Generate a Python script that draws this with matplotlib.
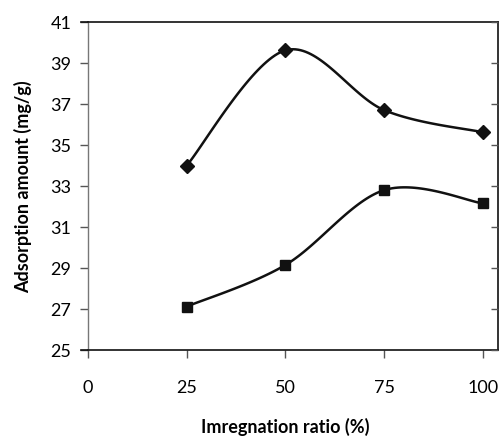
import numpy as np
import matplotlib
matplotlib.use("Agg")
import matplotlib.pyplot as plt

# ---- data ----
ratio = [25, 50, 75, 100]
series_diamond = [34.0, 39.62, 36.7, 35.62]
series_square = [27.12, 29.15, 32.8, 32.15]
xticks = [0, 25, 50, 75, 100]
yticks = [25, 27, 29, 31, 33, 35, 37, 39, 41]
xlabel = "Imregnation ratio (%)"
ylabel = "Adsorption amount (mg/g)"

plt.rcParams['font.family'] = ['Lato', 'DejaVu Sans']

fig = plt.figure(figsize=(4.99, 4.39), dpi=100)
ax = fig.add_axes([88/499, 1-351/439, 410/499, 328/439])
ax.set_xlim(0, 103.8)
ax.set_ylim(25, 41)


def smooth(ax, xs, ys, n=40):
    pts = ax.transData.transform(np.column_stack([xs, ys]))
    P = np.vstack([pts[0], pts, pts[-1]])
    out = []
    for i in range(1, len(P) - 2):
        p0, p1, p2, p3 = P[i-1], P[i], P[i+1], P[i+2]
        b0 = p1
        b1 = p1 + (p2 - p0) / 6
        b2 = p2 - (p3 - p1) / 6
        b3 = p2
        t = np.linspace(0, 1, n)[:, None]
        seg = ((1-t)**3)*b0 + 3*((1-t)**2)*t*b1 + 3*(1-t)*t**2*b2 + t**3*b3
        out.append(seg)
    curve = np.vstack(out)
    return ax.transData.inverted().transform(curve)

for ys, mk, ms in [(series_diamond, 'D', 7), (series_square, 's', 7.5)]:
    c = smooth(ax, ratio, ys)
    ax.plot(c[:, 0], c[:, 1], color='#111111', lw=1.8, zorder=2)
    ax.plot(ratio, ys, linestyle='none', marker=mk, ms=ms, color='#111111', zorder=3)

ax.set_xticks(xticks)
ax.set_yticks(yticks)
ax.tick_params(axis='both', labelsize=13, length=6, width=1, color='#555555')
ax.tick_params(axis='x', pad=15)
ax.tick_params(axis='y', pad=6)

for s in ['top', 'right', 'bottom']:
    ax.spines[s].set_color('#111111')
    ax.spines[s].set_linewidth(1.2)
ax.spines['left'].set_color('#777777')
ax.spines['left'].set_linewidth(1.0)

# right side inward ticks
ax2 = ax.twinx()
ax2.set_ylim(25, 41)
ax2.set_yticks(yticks)
ax2.tick_params(axis='y', direction='in', length=5, width=1, color='#555555', labelright=False)
for s in ax2.spines.values():
    s.set_visible(False)

# extend top/bottom lines to the left over the tick
ax.plot([-7/3.95, 0], [41, 41], color='#111111', lw=1.2, clip_on=False)
ax.plot([-7/3.95, 0], [25, 25], color='#111111', lw=1.2, clip_on=False)

ax.set_xlabel(xlabel, fontsize=13, fontweight='bold', va='center')
ax.xaxis.set_label_coords(0.48, -0.232)
ax.set_ylabel(ylabel, fontsize=13, fontweight='bold', va='center')
ax.yaxis.set_label_coords(-0.158, 0.5)

fig.savefig("out.png", dpi=100)
